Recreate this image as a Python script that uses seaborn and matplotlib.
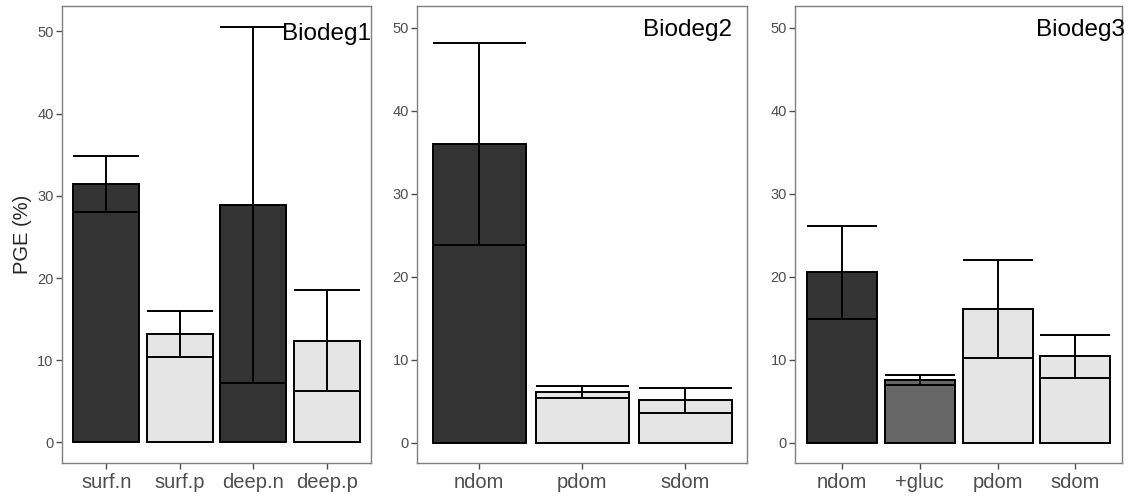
import pandas as pd
import matplotlib
matplotlib.use("Agg")
import matplotlib.pyplot as plt
import seaborn as sns

# --------------------------------------------------
# Data (mean PGE and error half-width per treatment)
# --------------------------------------------------

panel_names = ["Biodeg1", "Biodeg2", "Biodeg3"]

treat_1 = ["surf.n", "surf.p", "deep.n", "deep.p"]
pge_1 = [31.4, 13.2, 28.9, 12.4]
err_1 = [3.4, 2.8, 21.7, 6.2]
kind_1 = ["n", "p", "n", "p"]

treat_2 = ["ndom", "pdom", "sdom"]
pge_2 = [35.95, 6.1, 5.1]
err_2 = [12.2, 0.7, 1.5]
kind_2 = ["n", "p", "p"]

treat_3 = ["ndom", "+gluc", "pdom", "sdom"]
pge_3 = [20.5, 7.5, 16.1, 10.4]
err_3 = [5.6, 0.6, 5.9, 2.6]
kind_3 = ["n", "g", "p", "p"]

fill_colors = {"n": "#333333", "g": "#666666", "p": "#E5E5E5"}

y_limits = [(-2.5, 53.1), (-2.45, 52.6), (-2.45, 52.6)]
label_x = [3.6, 2.455, 3.64]

# axes placement in figure fraction (left, bottom, width, height)
axes_rects = [
    (0.0548, 0.0684, 0.2729, 0.9196),
    (0.3686, 0.0684, 0.2916, 0.9196),
    (0.7026, 0.0684, 0.2886, 0.9196),
]

sns.set_style("white")
plt.rcParams["font.family"] = ["Liberation Sans", "DejaVu Sans"]

fig = plt.figure(figsize=(11.32, 4.97), dpi=100)

panels = [
    (treat_1, pge_1, err_1, kind_1),
    (treat_2, pge_2, err_2, kind_2),
    (treat_3, pge_3, err_3, kind_3),
]

for i, (treat, pge, err, kind) in enumerate(panels):

    ax = fig.add_axes(axes_rects[i])

    df = pd.DataFrame({
        "treat": treat,
        "pge": pge,
        "err": err,
        "kind": kind,
    })

    palette = {t: fill_colors[k] for t, k in zip(treat, kind)}

    sns.barplot(
        data=df,
        x="treat",
        y="pge",
        hue="treat",
        palette=palette,
        width=0.9,
        edgecolor="black",
        linewidth=1.4,
        errorbar=None,
        legend=False,
        saturation=1,
        ax=ax,
    )

    xs = range(len(df))
    lo = df["pge"] - df["err"]
    hi = df["pge"] + df["err"]

    ax.vlines(xs, lo, hi, color="black", linewidth=1.4, zorder=4)
    ax.hlines(lo, [x - 0.45 for x in xs], [x + 0.45 for x in xs],
              color="black", linewidth=1.4, zorder=4)
    ax.hlines(hi, [x - 0.45 for x in xs], [x + 0.45 for x in xs],
              color="black", linewidth=1.4, zorder=4)

    ax.set_xlim(-0.6, len(df) - 0.4)
    ax.set_ylim(*y_limits[i])
    ax.set_yticks([0, 10, 20, 30, 40, 50])

    ax.set_xlabel("")
    ax.set_ylabel("PGE (%)" if i == 0 else "", fontsize=14.5, labelpad=4)

    ax.tick_params(axis="x", labelsize=14.5, colors="#4D4D4D",
                   length=4, width=1, pad=3, bottom=True)
    ax.tick_params(axis="y", labelsize=10.5, colors="#4D4D4D",
                   length=4, width=1, pad=2, left=True)
    for lab in ax.get_xticklabels() + ax.get_yticklabels():
        lab.set_color("#4D4D4D")

    for spine in ax.spines.values():
        spine.set_visible(True)
        spine.set_color("#7F7F7F")
        spine.set_linewidth(1.0)

    ax.text(label_x[i], 49, panel_names[i], ha="right", va="baseline",
            fontsize=17.5, color="black", clip_on=False, zorder=5)

fig.savefig("out.png", dpi=100)
